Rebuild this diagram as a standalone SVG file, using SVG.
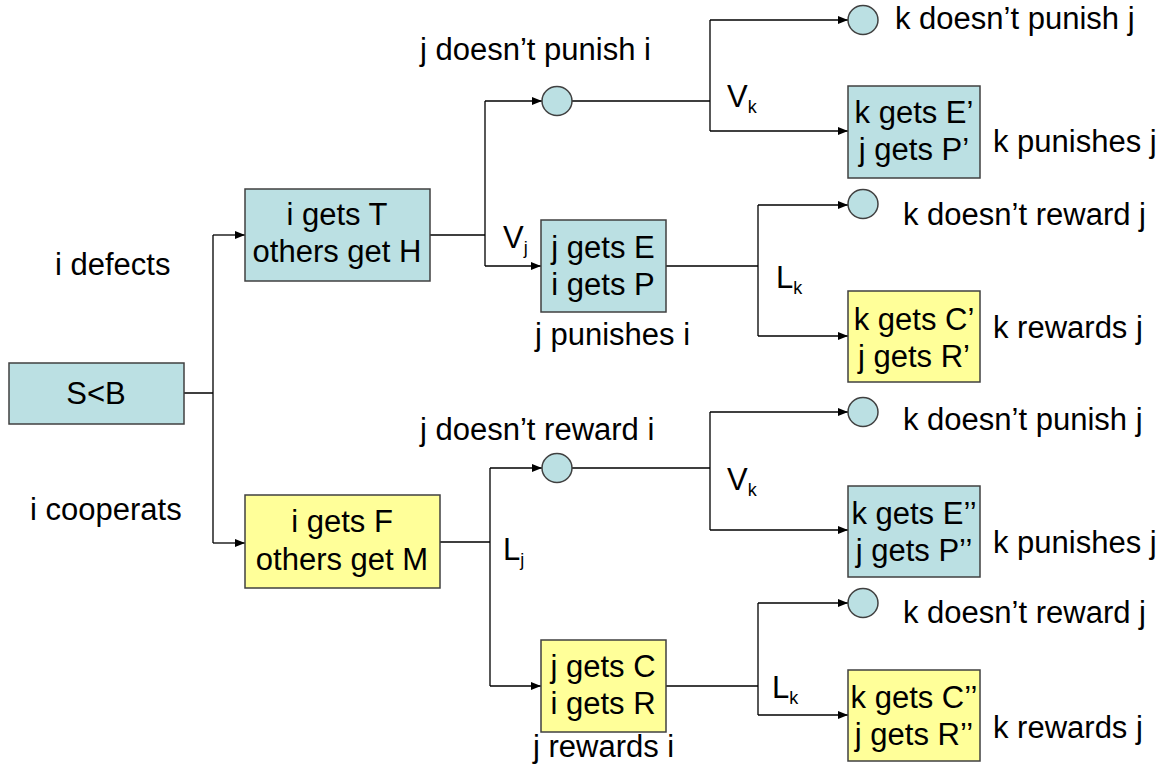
<svg xmlns="http://www.w3.org/2000/svg" width="1163" height="767" viewBox="0 0 1163 767">
<style>
text{font-family:"Liberation Sans",Arial,sans-serif;font-size:31px;fill:#000}
.c{text-anchor:middle}
.sub{font-size:18px}
.b{fill:#BBE0E3;stroke:#404040;stroke-width:1.5}
.y{fill:#FFFF99;stroke:#404040;stroke-width:1.5}
.ln{fill:none;stroke:#000;stroke-width:1.3}
</style>
<defs>
<marker id="a" markerWidth="10" markerHeight="8" refX="10" refY="4" orient="auto" markerUnits="userSpaceOnUse">
<path d="M0,0 L10,4 L0,8 Z" fill="#000"/>
</marker>
</defs>
<rect width="1163" height="767" fill="#fff"/>
<g id="connectors">
<path class="ln" d="M184,393 H213 M213,235 V543"/>
<path class="ln" d="M213,235 H245" marker-end="url(#a)"/>
<path class="ln" d="M213,543 H245" marker-end="url(#a)"/>
<path class="ln" d="M430,235 H485 M485,101 V266"/>
<path class="ln" d="M485,101 H542" marker-end="url(#a)"/>
<path class="ln" d="M485,266 H541" marker-end="url(#a)"/>
<path class="ln" d="M572,101 H710 M710,20 V131"/>
<path class="ln" d="M710,20 H848" marker-end="url(#a)"/>
<path class="ln" d="M710,131 H848" marker-end="url(#a)"/>
<path class="ln" d="M666,266 H758 M758,205 V336"/>
<path class="ln" d="M758,205 H848" marker-end="url(#a)"/>
<path class="ln" d="M758,336 H848" marker-end="url(#a)"/>
<path class="ln" d="M440,542 H490 M490,468 V686"/>
<path class="ln" d="M490,468 H542" marker-end="url(#a)"/>
<path class="ln" d="M490,686 H541" marker-end="url(#a)"/>
<path class="ln" d="M572,468 H710 M710,412 V530"/>
<path class="ln" d="M710,412 H848" marker-end="url(#a)"/>
<path class="ln" d="M710,530 H848" marker-end="url(#a)"/>
<path class="ln" d="M666,686 H758 M758,603 V715"/>
<path class="ln" d="M758,603 H848" marker-end="url(#a)"/>
<path class="ln" d="M758,715 H848" marker-end="url(#a)"/>
</g>
<g id="root"><rect class="b" x="9" y="363" width="175" height="61"/><text class="c" x="96" y="404">S&lt;B</text></g>
<g id="defect"><rect class="b" x="245" y="189" width="185" height="92"/><text class="c" x="337" y="225">i gets T</text><text class="c" x="337" y="262">others get H</text></g>
<g id="coop"><rect class="y" x="245" y="495" width="195" height="93"/><text class="c" x="342" y="532">i gets F</text><text class="c" x="342" y="570">others get M</text></g>
<g id="c1"><ellipse class="b" cx="557" cy="101" rx="15" ry="14.5"/></g>
<g id="jpun"><rect class="b" x="541" y="220" width="125" height="92"/><text class="c" x="603" y="258">j gets E</text><text class="c" x="603" y="295">i gets P</text></g>
<g id="c2"><ellipse class="b" cx="863" cy="20" rx="15" ry="14.5"/></g>
<g id="kpun1"><rect class="b" x="848" y="86" width="132" height="92"/><text class="c" x="914" y="123">k gets E’</text><text class="c" x="914" y="160">j gets P’</text></g>
<g id="c3"><ellipse class="b" cx="863" cy="204" rx="15" ry="14.5"/></g>
<g id="krew1"><rect class="y" x="848" y="291" width="132" height="91"/><text class="c" x="914" y="330">k gets C’</text><text class="c" x="914" y="367">j gets R’</text></g>
<g id="c4"><ellipse class="b" cx="557" cy="468" rx="15" ry="14.5"/></g>
<g id="jrew"><rect class="y" x="541" y="640" width="125" height="92"/><text class="c" x="603" y="677">j gets C</text><text class="c" x="603" y="714">i gets R</text></g>
<g id="c5"><ellipse class="b" cx="863" cy="412" rx="15" ry="14.5"/></g>
<g id="kpun2"><rect class="b" x="848" y="486" width="132" height="91"/><text class="c" x="914" y="524">k gets E’’</text><text class="c" x="914" y="561">j gets P’’</text></g>
<g id="c6"><ellipse class="b" cx="863" cy="603" rx="15" ry="14.5"/></g>
<g id="krew2"><rect class="y" x="848" y="670" width="132" height="91"/><text class="c" x="914" y="708">k gets C’’</text><text class="c" x="914" y="745">j gets R’’</text></g>
<g id="labels">
<text x="55" y="275">i defects</text>
<text x="30" y="520">i cooperats</text>
<text x="420" y="60">j doesn’t punish i</text>
<text x="895" y="29">k doesn’t punish j</text>
<text x="727" y="107">V<tspan class="sub" dy="6">k</tspan></text>
<text x="993" y="152">k punishes j</text>
<text x="503" y="248">V<tspan class="sub" dy="6">j</tspan></text>
<text x="903" y="225">k doesn’t reward j</text>
<text x="776" y="288">L<tspan class="sub" dy="6">k</tspan></text>
<text x="993" y="338">k rewards j</text>
<text x="535" y="345">j punishes i</text>
<text x="420" y="440">j doesn’t reward i</text>
<text x="903" y="430">k doesn’t punish j</text>
<text x="727" y="490">V<tspan class="sub" dy="6">k</tspan></text>
<text x="993" y="553">k punishes j</text>
<text x="503" y="560">L<tspan class="sub" dy="6">j</tspan></text>
<text x="903" y="623">k doesn’t reward j</text>
<text x="772" y="698">L<tspan class="sub" dy="6">k</tspan></text>
<text x="993" y="738">k rewards j</text>
<text x="533" y="757">j rewards i</text>
</g>
</svg>
